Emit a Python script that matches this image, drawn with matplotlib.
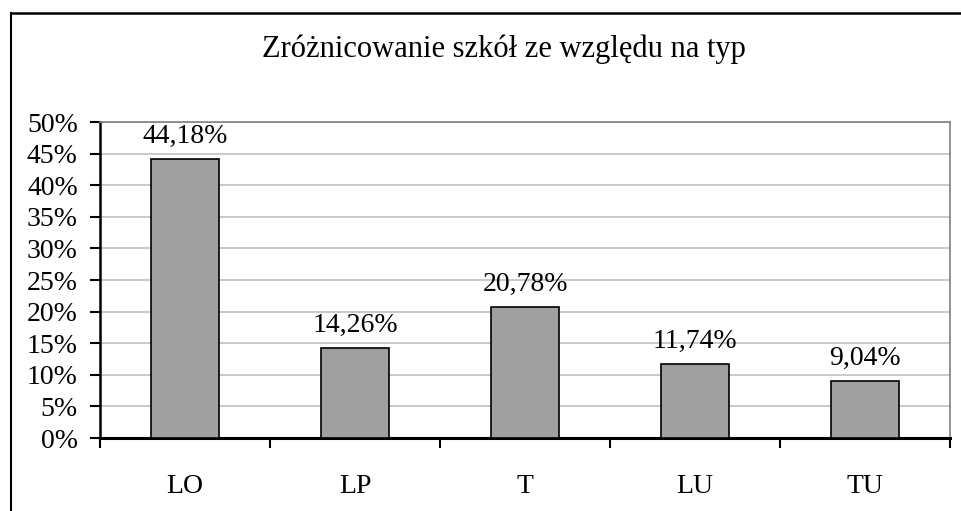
import matplotlib.pyplot as plt
from matplotlib.lines import Line2D
from matplotlib.ticker import FuncFormatter, FixedLocator

categories = ["LO", "LP", "T", "LU", "TU"]
values = [44.18, 14.26, 20.78, 11.74, 9.04]
labels = ["44,18%", "14,26%", "20,78%", "11,74%", "9,04%"]
yticks = [0, 5, 10, 15, 20, 25, 30, 35, 40, 45, 50]

plt.rcParams['font.family'] = ['Liberation Serif', 'DejaVu Serif']

fig = plt.figure(figsize=(9.61, 5.11), dpi=100)
ax = fig.add_axes([100 / 961, 73 / 511, 850 / 961, 316 / 511])

x = list(range(len(categories)))
ax.bar(x, values, width=0.4, color="#a0a0a0", edgecolor="black", linewidth=1.2, zorder=3)

for xi, v, lab in zip(x, values, labels):
    ax.annotate(lab, (xi, v), xytext=(0, 7), textcoords="offset points",
                ha="center", va="bottom", fontsize=20)

ax.set_xlim(-0.5, len(categories) - 0.5)
ax.set_ylim(0, 50)
ax.set_yticks(yticks)
ax.yaxis.set_major_formatter(FuncFormatter(lambda v, p: f"{v:.0f}%"))
ax.yaxis.grid(True, color="#c0c0c0", linewidth=1.2, zorder=0)
ax.set_axisbelow(True)

ax.set_xticks(x)
ax.set_xticklabels(categories)
ax.xaxis.set_minor_locator(FixedLocator([i - 0.5 for i in range(len(categories) + 1)]))
ax.tick_params(axis="x", which="major", length=0, pad=26, labelsize=20)
ax.tick_params(axis="x", which="minor", length=7, width=1.5, direction="out")
ax.tick_params(axis="y", length=7, width=1.5, direction="out", labelsize=20, pad=9)

for s in ["top", "right"]:
    ax.spines[s].set_color("#808080")
    ax.spines[s].set_linewidth(1.2)
ax.spines["left"].set_linewidth(1.8)
ax.spines["bottom"].set_linewidth(2.2)

fig.text(504 / 961, 1 - 57 / 511, "Zróżnicowanie szkół ze względu na typ",
         ha="center", va="baseline", fontsize=22)

# outer chart frame (cropped at right and bottom)
fig.add_artist(Line2D([10.5 / 961, 10.5 / 961], [0, 1 - 13 / 511], color="black", linewidth=1.5))
fig.add_artist(Line2D([10.5 / 961, 1], [1 - 13.5 / 511, 1 - 13.5 / 511], color="black", linewidth=1.8))

fig.savefig("out.png", dpi=100)
